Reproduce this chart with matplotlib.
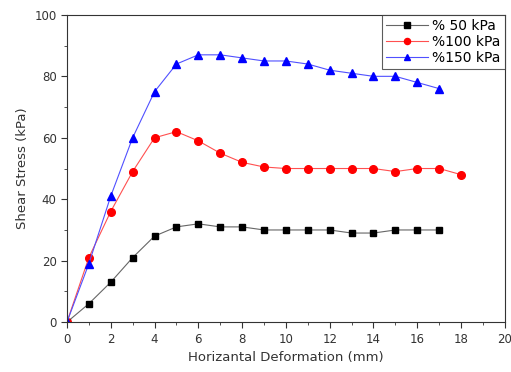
import matplotlib
matplotlib.use("Agg")
import matplotlib.pyplot as plt
from matplotlib.ticker import MultipleLocator

# data
x50 = list(range(0, 18))
y50 = [0, 6, 13, 21, 28, 31, 32, 31, 31, 30, 30, 30, 30, 29, 29, 30, 30, 30]
x100 = list(range(0, 19))
y100 = [0, 21, 36, 49, 60, 62, 59, 55, 52, 50.5, 50, 50, 50, 50, 50, 49, 50, 50, 48]
x150 = list(range(0, 18))
y150 = [0, 19, 41, 60, 75, 84, 87, 87, 86, 85, 85, 84, 82, 81, 80, 80, 78, 76]

fig = plt.figure(figsize=(5.11, 3.72), dpi=100)
ax = fig.add_axes([0.131, 0.134, 0.857, 0.826])

# lines a bit lighter than the markers, like the original
ax.plot(x50, y50, color="#666666", marker="s", markersize=5, linewidth=0.8,
        markerfacecolor="black", markeredgecolor="black", label="% 50 kPa")
ax.plot(x100, y100, color="#ff5050", marker="o", markersize=5.5, linewidth=0.8,
        markerfacecolor="red", markeredgecolor="red", label="%100 kPa")
ax.plot(x150, y150, color="#5050ff", marker="^", markersize=6, linewidth=0.8,
        markerfacecolor="blue", markeredgecolor="blue", label="%150 kPa")

ax.set_xlim(0, 20)
ax.set_ylim(0, 100)
ax.xaxis.set_major_locator(MultipleLocator(2))
ax.xaxis.set_minor_locator(MultipleLocator(1))
ax.yaxis.set_major_locator(MultipleLocator(20))
ax.yaxis.set_minor_locator(MultipleLocator(10))
ax.tick_params(which="both", direction="out", labelsize=8.5, colors="#333333")
ax.tick_params(which="major", length=4)
ax.tick_params(which="minor", length=2.5)
for s in ax.spines.values():
    s.set_color("#333333")

ax.set_xlabel("Horizantal Deformation (mm)", fontsize=9.5, color="#333333")
ax.set_ylabel("Shear Stress (kPa)", fontsize=9.5, color="#333333")

leg = ax.legend(loc="upper right", fontsize=10, frameon=True, fancybox=False,
                borderaxespad=0, handlelength=3.0, handletextpad=0.3,
                borderpad=0.3, labelspacing=0.15, markerscale=0.8)
leg.get_frame().set_edgecolor("#333333")
leg.get_frame().set_linewidth(0.8)

fig.savefig("out.png", dpi=100)
